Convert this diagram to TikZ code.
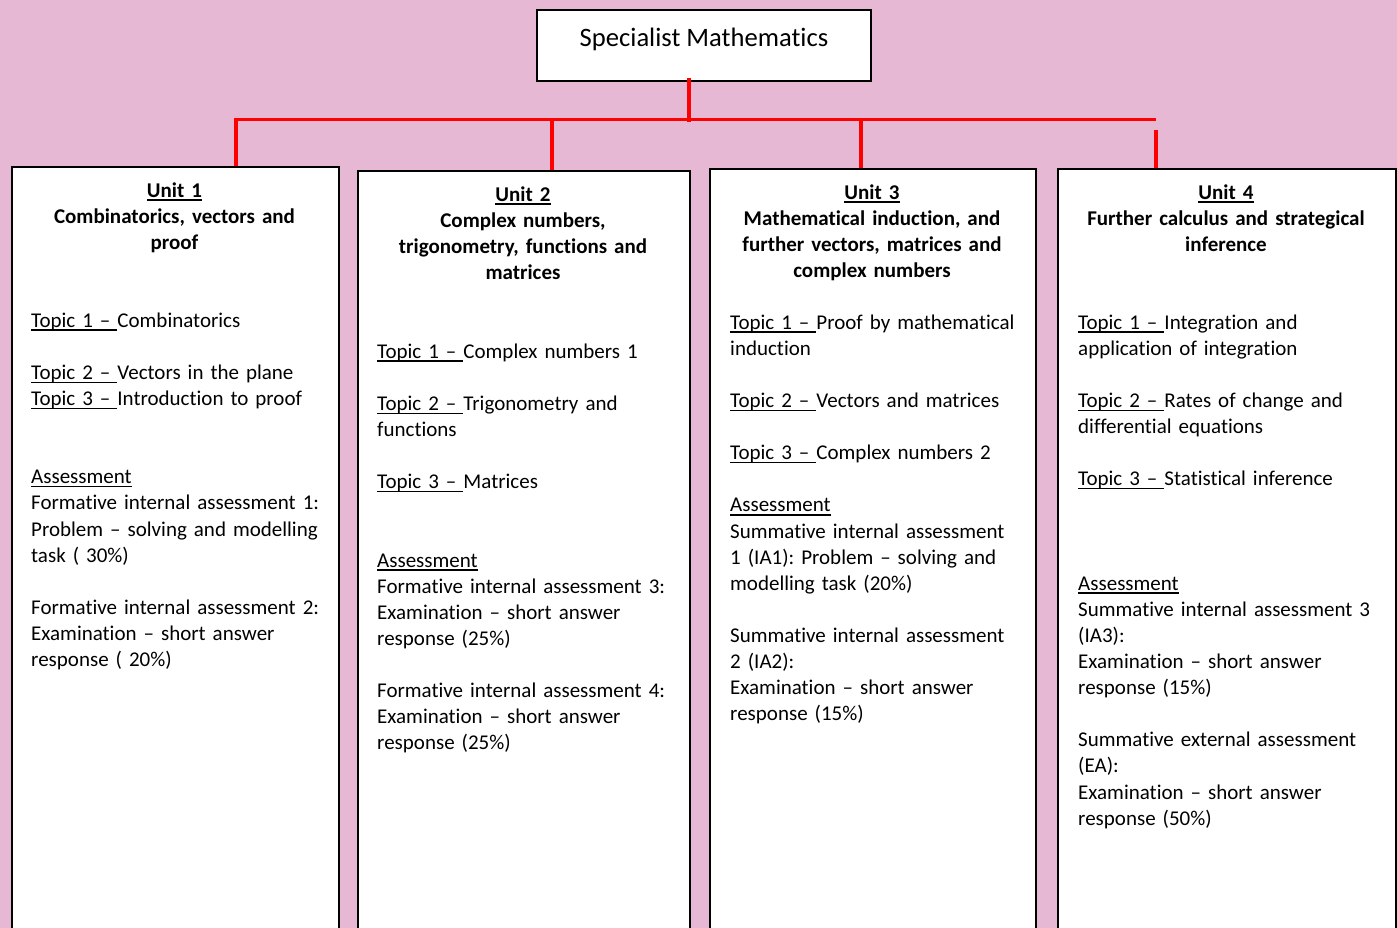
\documentclass[tikz,border=0pt]{standalone}
\usepackage{fontspec}
\setmainfont{Carlito}[Ligatures={NoCommon}]
\usetikzlibrary{calc}

\definecolor{pagebg}{RGB}{230,184,212}
\definecolor{linkred}{RGB}{255,0,0}

% underline drawn as a rule a little below the baseline, spanning the whole box
\newcommand\underl[2][1.5pt]{\leavevmode\setbox0=\hbox{#2}\rlap{\rule[-3.6pt]{\wd0}{#1}}\box0}

\tikzset{
  titlebox/.style={draw=black, line width=2pt, fill=white, inner sep=0pt,
    minimum width=334pt, text height=37pt, text depth=34pt,
    font=\fontsize{26.6}{32}\selectfont},
  unitbox/.style={draw=black, line width=2pt, fill=white, inner sep=0pt,
    minimum height=820pt, anchor=north west},
  headtext/.style={font=\fontsize{21}{26.1}\selectfont\bfseries,
    align=center, text width=310pt, inner sep=0pt, anchor=north},
  bodytext/.style={font=\fontsize{21}{26.1}\selectfont,
    align=left, text width=300pt, inner sep=0pt, anchor=north west},
  link/.style={draw=linkred, line width=3.5pt}
}

\begin{document}
\frenchspacing
\begin{tikzpicture}[x=1pt,y=-1pt]
\useasboundingbox (0,0) rectangle (1397,928);
\clip (0,0) rectangle (1397,928);
\fill[pagebg] (0,0) rectangle (1397,928);

% course title
\node[titlebox, anchor=base] (title) at (704,47) {Specialist Mathematics};

% the four unit panels (they run past the bottom edge)
\node[unitbox, minimum width=327pt] (u1) at (11,166) {};
\node[unitbox, minimum width=332pt] (u2) at (357,170) {};
\node[unitbox, minimum width=326pt] (u3) at (709,168) {};
\node[unitbox, minimum width=338pt] (u4) at (1057,168) {};

% unit headings
\node[headtext] (h1) at (174.5,178.73) {\strut\underl[2pt]{Unit 1}\\
  Combinatorics, vectors and\\ proof};
\node[headtext] (h2) at (523,182.73) {\strut\underl[2pt]{Unit 2}\\
  Complex numbers,\\ trigonometry, functions and\\ matrices};
\node[headtext] (h3) at (872,180.73) {\strut\underl[2pt]{Unit 3}\\
  Mathematical induction, and\\ further vectors, matrices and\\ complex numbers};
\node[headtext] (h4) at (1226,180.73) {\strut\underl[2pt]{Unit 4}\\
  Further calculus and strategical\\ inference};

% unit contents
\node[bodytext] (b1) at (31,308.73) {\strut\underl{Topic 1 – }Combinatorics\\[26.1pt]
  \underl{Topic 2 – }Vectors in the plane\\
  \underl{Topic 3 – }Introduction to proof\\[52.2pt]
  \underl{Assessment}\\
  Formative internal assessment 1:\\
  Problem – solving and modelling\\
  task ( 30\%)\\[26.1pt]
  Formative internal assessment 2:\\
  Examination – short answer\\
  response ( 20\%)};

\node[bodytext] (b2) at (377,339.73) {\strut\underl{Topic 1 – }Complex numbers 1\\[26.1pt]
  \underl{Topic 2 – }Trigonometry and\\
  functions\\[26.1pt]
  \underl{Topic 3 – }Matrices\\[52.2pt]
  \underl{Assessment}\\
  Formative internal assessment 3:\\
  Examination – short answer\\
  response (25\%)\\[26.1pt]
  Formative internal assessment 4:\\
  Examination – short answer\\
  response (25\%)};

\node[bodytext] (b3) at (730,310.73) {\strut\underl{Topic 1 – }Proof by mathematical\\
  induction\\[26.1pt]
  \underl{Topic 2 – }Vectors and matrices\\[26.1pt]
  \underl{Topic 3 – }Complex numbers 2\\[26.1pt]
  \underl{Assessment}\\
  Summative internal assessment\\
  1 (IA1): Problem – solving and\\
  modelling task (20\%)\\[26.1pt]
  Summative internal assessment\\
  2 (IA2):\\
  Examination – short answer\\
  response (15\%)};

\node[bodytext] (b4) at (1078,310.73) {\strut\underl{Topic 1 – }Integration and\\
  application of integration\\[26.1pt]
  \underl{Topic 2 – }Rates of change and\\
  differential equations\\[26.1pt]
  \underl{Topic 3 – }Statistical inference\\[78.3pt]
  \underl{Assessment}\\
  Summative internal assessment 3\\
  (IA3):\\
  Examination – short answer\\
  response (15\%)\\[26.1pt]
  Summative external assessment\\
  (EA):\\
  Examination – short answer\\
  response (50\%)};

% red connector tree
\coordinate (hub) at (689,119.5);
\coordinate (tl) at (234,119.5);
\coordinate (tr) at (1156,119.5);
\coordinate (d1) at (236,119.5);
\coordinate (d2) at (552,119.5);
\coordinate (d3) at (861,119.5);
\coordinate (d4) at (1156,130);

\draw[link] (tl) -- (tr);
\draw[link, shorten <=-4pt, shorten >=-3pt] (title.south -| hub) -- (hub);
\draw[link] (d1) -- (d1 |- u1.north);
\draw[link] (d2) -- (d2 |- u2.north);
\draw[link] (d3) -- (d3 |- u3.north);
\draw[link] (d4) -- (d4 |- u4.north);
\end{tikzpicture}
\end{document}
